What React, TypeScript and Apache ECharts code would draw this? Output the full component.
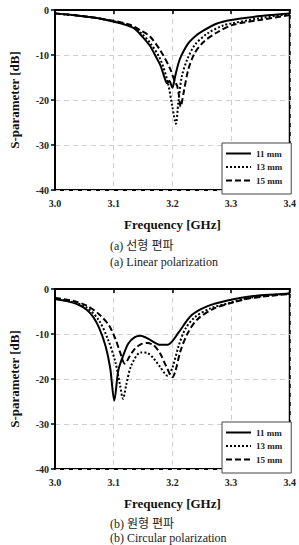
import React, { useEffect, useRef } from "react";
import * as echarts from "echarts";

// Reflection coefficient (dB) of the patch for three slot lengths.
// (a) linear polarization
const LIN_11_F = [3.0, 3.03, 3.054, 3.08, 3.1, 3.12, 3.135, 3.148, 3.162, 3.172, 3.18, 3.187, 3.191, 3.195, 3.2, 3.205, 3.21, 3.215, 3.227, 3.24, 3.25, 3.276, 3.3, 3.34, 3.37, 3.4];
const LIN_11_DB = [-0.75, -1.1, -1.5, -2.0, -2.6, -3.3, -4.1, -5.8, -8.0, -10.4, -12.4, -15.2, -16.3, -15.8, -17.3, -14.6, -12.0, -10.2, -7.4, -5.7, -4.8, -3.0, -2.2, -1.5, -1.1, -0.75];
const LIN_13_F = [3.0, 3.05, 3.1, 3.13, 3.148, 3.162, 3.179, 3.192, 3.2, 3.206, 3.21, 3.216, 3.225, 3.238, 3.26, 3.287, 3.3, 3.35, 3.4];
const LIN_13_DB = [-0.8, -1.4, -2.5, -3.6, -5.3, -7.3, -10.8, -16.0, -21.5, -25.3, -20.7, -14.8, -11.1, -7.8, -5.2, -3.4, -3.0, -1.8, -0.9];
const LIN_15_F = [3.0, 3.05, 3.1, 3.13, 3.148, 3.162, 3.179, 3.196, 3.204, 3.208, 3.211, 3.214, 3.219, 3.227, 3.238, 3.254, 3.276, 3.303, 3.35, 3.4];
const LIN_15_DB = [-0.75, -1.4, -2.4, -3.4, -4.7, -5.9, -8.9, -13.0, -15.9, -16.8, -18.8, -21.5, -18.5, -13.3, -9.6, -7.0, -5.0, -3.3, -2.2, -1.1];

// (b) circular polarization
const CIR_11_F = [3.0, 3.02, 3.04, 3.054, 3.065, 3.075, 3.086, 3.094, 3.101, 3.108, 3.117, 3.125, 3.136, 3.146, 3.162, 3.179, 3.192, 3.2, 3.211, 3.233, 3.26, 3.292, 3.335, 3.4];
const CIR_11_DB = [-2.2, -2.7, -3.5, -4.6, -6.2, -8.6, -12.6, -17.5, -24.8, -18.0, -14.5, -12.1, -10.7, -10.4, -11.3, -12.4, -12.4, -11.6, -9.6, -5.8, -3.8, -2.6, -1.6, -1.0];
const CIR_13_F = [3.0, 3.03, 3.054, 3.075, 3.09, 3.103, 3.111, 3.116, 3.121, 3.13, 3.146, 3.157, 3.168, 3.179, 3.192, 3.2, 3.211, 3.222, 3.238, 3.265, 3.297, 3.335, 3.4];
const CIR_13_DB = [-2.1, -2.9, -4.1, -7.0, -11.1, -16.3, -21.5, -24.4, -21.5, -17.0, -14.1, -14.2, -15.4, -17.3, -19.3, -17.5, -12.5, -8.9, -6.3, -4.3, -3.1, -1.9, -1.0];
const CIR_15_F = [3.0, 3.03, 3.054, 3.075, 3.092, 3.103, 3.111, 3.119, 3.127, 3.136, 3.146, 3.157, 3.168, 3.179, 3.19, 3.2, 3.205, 3.214, 3.227, 3.243, 3.27, 3.303, 3.335, 3.4];
const CIR_15_DB = [-2.0, -2.6, -3.7, -5.6, -8.1, -11.1, -14.1, -16.6, -15.0, -13.3, -12.3, -12.0, -12.5, -14.3, -17.3, -19.6, -18.3, -13.7, -9.6, -6.7, -4.4, -3.0, -2.0, -1.1];

const SERIES_NAMES = ["11 mm", "13 mm", "15 mm"];
const X_TICKS = [3.0, 3.1, 3.2, 3.3, 3.4];
const Y_TICKS = [-40, -30, -20, -10, 0];
const CAPTIONS_A = ["(a) 선형 편파", "(a) Linear polarization"];
const CAPTIONS_B = ["(b) 원형 편파", "(b) Circular polarization"];

const SERIF = '"Liberation Serif", "Times New Roman", "Noto Sans CJK KR", serif';

const zip = (f: number[], v: number[]) => f.map((x, i) => [x, v[i]]);

const LINE_STYLES: any[] = [
  { type: "solid", width: 2 },
  { type: "dotted", width: 2 },
  { type: [6, 3], width: 2 },
];

export default function App() {
  const ref = useRef<HTMLDivElement>(null);

  useEffect(() => {
    if (!ref.current) return;
    const chart = echarts.init(ref.current, undefined, { renderer: "svg" });

    const grids = [
      { left: 43, top: 10, width: 247, height: 180 },
      { left: 43, top: 289, width: 247, height: 180 },
    ];

    const xAxis = grids.map((_, gi) => ({
      type: "value",
      gridIndex: gi,
      min: X_TICKS[0],
      max: X_TICKS[X_TICKS.length - 1],
      interval: 0.1,
      name: "Frequency [GHz]",
      nameLocation: "middle",
      nameGap: 28,
      nameTextStyle: { fontFamily: SERIF, fontWeight: "bold", fontSize: 13, color: "#111" },
      axisLine: { lineStyle: { color: "#000", width: 2 } },
      axisTick: { show: true, length: 4, lineStyle: { color: "#000", width: 1.5 } },
      axisLabel: {
        fontFamily: SERIF,
        fontWeight: "bold",
        fontSize: 10,
        color: "#222",
        margin: 8,
        formatter: (v: number) => v.toFixed(1),
      },
      splitLine: { show: true, lineStyle: { color: "#d0d0d0", type: [5, 4], width: 1 } },
    }));

    const yAxis = grids.map((_, gi) => ({
      type: "value",
      gridIndex: gi,
      min: Y_TICKS[0],
      max: Y_TICKS[Y_TICKS.length - 1],
      interval: 10,
      name: "S-parameter [dB]",
      nameLocation: "middle",
      nameGap: 34,
      nameTextStyle: { fontFamily: SERIF, fontWeight: "bold", fontSize: 13, color: "#111" },
      axisLine: { lineStyle: { color: "#000", width: 2 } },
      axisTick: { show: true, length: 4, lineStyle: { color: "#000", width: 1.5 } },
      axisLabel: { fontFamily: SERIF, fontWeight: "bold", fontSize: 10, color: "#222", margin: 6 },
      splitLine: { show: true, lineStyle: { color: "#d0d0d0", type: [5, 4], width: 1 } },
    }));

    const sets = [
      [zip(LIN_11_F, LIN_11_DB), zip(LIN_13_F, LIN_13_DB), zip(LIN_15_F, LIN_15_DB)],
      [zip(CIR_11_F, CIR_11_DB), zip(CIR_13_F, CIR_13_DB), zip(CIR_15_F, CIR_15_DB)],
    ];

    const series: any[] = [];
    sets.forEach((group, gi) => {
      group.forEach((data, si) => {
        series.push({
          type: "line",
          name: SERIES_NAMES[si],
          xAxisIndex: gi,
          yAxisIndex: gi,
          data,
          smooth: 0.3,
          symbol: "none",
          lineStyle: { color: "#000", ...LINE_STYLES[si] },
          itemStyle: { color: "#000" },
        });
      });
    });

    const legendBase = {
      orient: "vertical",
      left: 222,
      itemWidth: 25,
      itemHeight: 8,
      itemGap: 4.5,
      itemTextGap: 6,
      padding: [6, 9, 9, 3],
      backgroundColor: "#fff",
      borderColor: "#444",
      borderWidth: 1,
      borderRadius: 0,
      selectedMode: false,
      data: SERIES_NAMES,
      // line sample only, no marker in the middle
      itemStyle: { opacity: 0 },
      textStyle: { fontFamily: SERIF, fontWeight: "bold", fontSize: 9, color: "#222" },
    };

    const captionText = (lines: string[], top: number[]) =>
      lines.map((t, i) => ({
        type: "text",
        left: 110,
        top: top[i],
        style: { text: t, font: `12px ${SERIF}`, fill: "#222" },
      }));

    chart.setOption({
      animation: false,
      backgroundColor: "#fff",
      grid: grids.map((g) => ({ ...g, show: true, borderColor: "#000", borderWidth: 2, backgroundColor: "transparent" })),
      xAxis,
      yAxis,
      legend: [
        { ...legendBase, top: 143 },
        { ...legendBase, top: 422 },
      ],
      series,
      graphic: [...captionText(CAPTIONS_A, [240, 256]), ...captionText(CAPTIONS_B, [518, 532])],
    });

    return () => chart.dispose();
  }, []);

  return <div ref={ref} style={{ position: "absolute", left: 0, top: 0, width: 299, height: 545 }} />;
}
